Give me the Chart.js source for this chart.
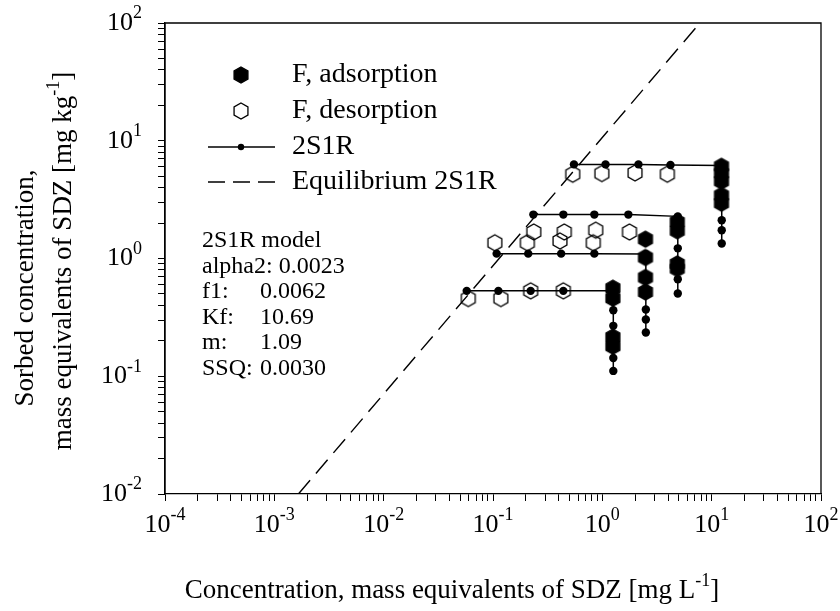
<!DOCTYPE html>
<html>
<head>
<meta charset="utf-8">
<script src="https://cdn.jsdelivr.net/npm/chart.js@4.4.1/dist/chart.umd.min.js"></script>
<style>
  html, body { margin: 0; padding: 0; background: #fff; }
  #wrap { width: 840px; height: 611px; }
</style>
</head>
<body>
<div id="wrap"><canvas id="c" width="840" height="611"></canvas></div>
<script>
// ---- Measured data: F (adsorption), F (desorption), 2S1R model, equilibrium isotherm ----

// Adsorption steps (filled hexagons), four initial concentration levels
const adsX1 = [1.25, 1.25, 1.25, 1.25];
const adsY1 = [0.56, 0.46, 0.215, 0.18];
const adsX2 = [2.48, 2.48, 2.48, 2.48];
const adsY2 = [1.46, 1.02, 0.69, 0.52];
const adsX3 = [4.85, 4.85, 4.85, 4.85];
const adsY3 = [2.04, 1.72, 0.90, 0.82];
const adsX4 = [12.3, 12.3, 12.3, 12.3, 12.3];
const adsY4 = [6.07, 5.3, 4.53, 3.44, 2.95];

// Desorption steps (open hexagons)
const desX1 = [0.0594, 0.118, 0.221, 0.44];
const desY1 = [0.457, 0.457, 0.531, 0.531];
const desX2 = [0.104, 0.206, 0.41, 0.826];
const desY2 = [1.36, 1.36, 1.41, 1.36];
const desX3 = [0.236, 0.449, 0.87, 1.77];
const desY3 = [1.68, 1.68, 1.74, 1.68];
const desX4 = [0.536, 0.99, 1.99, 3.93];
const desY4 = [5.2, 5.27, 5.33, 5.2];

// 2S1R model curves (adsorption column, then desorption steps)
const modX1 = [1.26, 1.26, 1.26, 1.26, 1.26, 1.26, 1.26, 1.26, 0.44, 0.221, 0.112, 0.0575];
const modY1 = [0.111, 0.143, 0.18, 0.215, 0.268, 0.364, 0.46, 0.531, 0.531, 0.531, 0.531, 0.531];
const modX2 = [2.5, 2.5, 2.5, 2.5, 2.5, 2.5, 2.5, 0.845, 0.42, 0.21, 0.108];
const modY2 = [0.235, 0.303, 0.369, 0.52, 0.69, 1.02, 1.09, 1.10, 1.10, 1.10, 1.10];
const modX3 = [4.9, 4.9, 4.9, 4.9, 4.9, 4.9, 4.9, 1.73, 0.845, 0.44, 0.234];
const modY3 = [0.505, 0.667, 0.87, 1.22, 1.70, 2.04, 2.28, 2.36, 2.36, 2.36, 2.36];
const modX4 = [12.36, 12.36, 12.36, 12.36, 12.36, 12.36, 12.36, 12.36, 4.2, 2.14, 1.07, 0.55];
const modY4 = [1.34, 1.74, 2.11, 2.95, 3.44, 4.53, 5.3, 6.15, 6.22, 6.3, 6.3, 6.3];

// Equilibrium 2S1R isotherm (straight line in log-log space)
const eqX = [0.00166, 7.8];
const eqY = [0.01, 100];

// Axis decades
const xDecades = [-4, -3, -2, -1, 0, 1, 2];
const yDecades = [-2, -1, 0, 1, 2];

// Legend and model parameter texts
const legendLabels = ['F, adsorption', 'F, desorption', '2S1R', 'Equilibrium 2S1R'];
const paramTitle = '2S1R model';
const paramNames = ['alpha2:', 'f1:', 'Kf:', 'm:', 'SSQ:'];
const paramValues = ['0.0023', '0.0062', '10.69', '1.09', '0.0030'];

// ---- helpers ----
const FONT = '"Liberation Serif", "Times New Roman", serif';
const zip = (xs, ys) => xs.map((x, i) => ({ x, y: ys[i] }));

function hexPath(ctx, cx, cy, r) {
  ctx.beginPath();
  for (let k = 0; k < 6; k++) {
    const a = -Math.PI / 2 + k * Math.PI / 3;
    const px = cx + r * Math.cos(a), py = cy + r * Math.sin(a);
    if (k === 0) ctx.moveTo(px, py); else ctx.lineTo(px, py);
  }
  ctx.closePath();
}
function hexImage(filled, r) {
  const s = Math.ceil(r * 2 + 4);
  const cv = document.createElement('canvas');
  cv.width = s; cv.height = s;
  const g = cv.getContext('2d');
  hexPath(g, s / 2, s / 2, r);
  if (filled) { g.fillStyle = '#000'; g.fill(); }
  g.lineWidth = 1.3; g.strokeStyle = '#000'; g.stroke();
  return cv;
}
const HEX_R = 8;
const hexFilled = hexImage(true, HEX_R);
const hexOpen = hexImage(false, HEX_R);

// draw a run of text pieces, some superscripted, aligned about (x, y)
function drawRich(ctx, x, y, pieces, size, align) {
  const ss = Math.round(size * 0.68);
  let w = 0;
  const widths = pieces.map(p => {
    ctx.font = `${p.sup ? ss : size}px ${FONT}`;
    const pw = ctx.measureText(p.t).width;
    w += pw;
    return pw;
  });
  let cx = align === 'center' ? x - w / 2 : align === 'right' ? x - w : x;
  ctx.textAlign = 'left';
  ctx.textBaseline = 'middle';
  pieces.forEach((p, i) => {
    ctx.font = `${p.sup ? ss : size}px ${FONT}`;
    ctx.fillText(p.t, cx, p.sup ? y - size * 0.36 : y);
    cx += widths[i];
  });
}

function decadeTicks(scale) {
  const ticks = [];
  const lo = Math.round(Math.log10(scale.min)), hi = Math.round(Math.log10(scale.max));
  for (let e = lo; e <= hi; e++) {
    for (let k = 1; k <= 9; k++) {
      if (e === hi && k > 1) break;
      ticks.push({ value: k * Math.pow(10, e), major: k === 1 });
    }
  }
  scale.ticks = ticks;
}

// frame, tick labels, axis titles, legend and parameter box
const decorations = {
  id: 'decorations',
  afterDraw(chart) {
    const ctx = chart.ctx;
    const { left, right, top, bottom } = chart.chartArea;
    const xs = chart.scales.x, ys = chart.scales.y;
    ctx.save();
    ctx.strokeStyle = '#000';
    ctx.lineWidth = 1.3;
    ctx.beginPath();
    ctx.moveTo(left, bottom); ctx.lineTo(left, top); ctx.lineTo(right, top); ctx.lineTo(right, bottom);
    ctx.stroke();

    ctx.fillStyle = '#000';
    // tick labels
    xDecades.forEach(e => {
      drawRich(ctx, xs.getPixelForValue(Math.pow(10, e)), bottom + 31,
        [{ t: '10' }, { t: String(e), sup: true }], 26, 'center');
    });
    yDecades.forEach(e => {
      drawRich(ctx, left - 23, ys.getPixelForValue(Math.pow(10, e)),
        [{ t: '10' }, { t: String(e), sup: true }], 26, 'right');
    });

    // x title
    drawRich(ctx, 452, 591,
      [{ t: 'Concentration, mass equivalents of SDZ [mg L' }, { t: '-1', sup: true }, { t: ']' }], 27, 'center');
    // y title (two lines)
    ctx.save();
    ctx.translate(26, 288);
    ctx.rotate(-Math.PI / 2);
    drawRich(ctx, 0, 0, [{ t: 'Sorbed concentration,' }], 27, 'center');
    ctx.restore();
    ctx.save();
    ctx.translate(64, 261);
    ctx.rotate(-Math.PI / 2);
    drawRich(ctx, 0, 0, [{ t: 'mass equivalents of SDZ [mg kg' }, { t: '-1', sup: true }, { t: ']' }], 27, 'center');
    ctx.restore();

    // legend
    const lx = 241, tx = 292;
    const rows = [75, 111, 147, 182];
    ctx.drawImage(hexFilled, lx - hexFilled.width / 2, rows[0] - hexFilled.height / 2);
    ctx.drawImage(hexOpen, lx - hexOpen.width / 2, rows[1] - hexOpen.height / 2);
    ctx.lineWidth = 1.5;
    ctx.beginPath(); ctx.moveTo(208, rows[2]); ctx.lineTo(275, rows[2]); ctx.stroke();
    ctx.beginPath(); ctx.arc(lx, rows[2], 3.2, 0, Math.PI * 2); ctx.fill();
    ctx.setLineDash([17, 8]);
    ctx.beginPath(); ctx.moveTo(208, rows[3]); ctx.lineTo(276, rows[3]); ctx.stroke();
    ctx.setLineDash([]);
    legendLabels.forEach((s, i) => drawRich(ctx, tx, rows[i], [{ t: s }], 28, 'left'));

    // model parameter block
    const px = 202, vx = 260, py0 = 241, dy = 25.5;
    drawRich(ctx, px, py0, [{ t: paramTitle }], 24, 'left');
    paramNames.forEach((n, i) => {
      const y = py0 + dy * (i + 1);
      if (i === 0) {
        drawRich(ctx, px, y, [{ t: n + ' ' + paramValues[i] }], 24, 'left');
      } else {
        drawRich(ctx, px, y, [{ t: n }], 24, 'left');
        drawRich(ctx, vx, y, [{ t: paramValues[i] }], 24, 'left');
      }
    });
    ctx.restore();
  }
};

const modelStyle = {
  type: 'line', showLine: true, borderColor: '#000', borderWidth: 1.5,
  pointRadius: 4.2, pointBackgroundColor: '#000', pointBorderWidth: 0,
  fill: false, tension: 0, order: 2
};
const adsStyle = { type: 'scatter', pointStyle: hexFilled, pointRadius: HEX_R, order: 0 };
const desStyle = { type: 'scatter', pointStyle: hexOpen, pointRadius: HEX_R, order: 1 };

const datasets = [
  { label: 'Equilibrium 2S1R', type: 'line', data: zip(eqX, eqY), borderColor: '#000', borderWidth: 1.4,
    borderDash: [18, 9], pointRadius: 0, fill: false, order: 3 },
  { label: '2S1R', data: zip(modX1, modY1), ...modelStyle },
  { label: '2S1R', data: zip(modX2, modY2), ...modelStyle },
  { label: '2S1R', data: zip(modX3, modY3), ...modelStyle },
  { label: '2S1R', data: zip(modX4, modY4), ...modelStyle },
  { label: 'F, desorption', data: zip(desX1, desY1), ...desStyle },
  { label: 'F, desorption', data: zip(desX2, desY2), ...desStyle },
  { label: 'F, desorption', data: zip(desX3, desY3), ...desStyle },
  { label: 'F, desorption', data: zip(desX4, desY4), ...desStyle },
  { label: 'F, adsorption', data: zip(adsX1, adsY1), ...adsStyle },
  { label: 'F, adsorption', data: zip(adsX2, adsY2), ...adsStyle },
  { label: 'F, adsorption', data: zip(adsX3, adsY3), ...adsStyle },
  { label: 'F, adsorption', data: zip(adsX4, adsY4), ...adsStyle }
];

const TICK_LEN = 7;
const axisCommon = {
  type: 'logarithmic',
  ticks: { display: false },
  title: { display: false },
  border: { display: true, color: '#000', width: 1.3 },
  grid: { drawOnChartArea: false, drawTicks: true, tickLength: TICK_LEN, color: '#000', lineWidth: 1 },
  afterBuildTicks: decadeTicks
};

new Chart(document.getElementById('c'), {
  type: 'scatter',
  data: { datasets },
  options: {
    responsive: false,
    devicePixelRatio: 1,
    animation: false,
    events: [],
    layout: { padding: { left: 165 - TICK_LEN, top: 23, right: 19, bottom: 611 - 494 - TICK_LEN } },
    plugins: { legend: { display: false }, tooltip: { enabled: false }, title: { display: false } },
    scales: {
      x: { ...axisCommon, position: 'bottom', min: 1e-4, max: 100 },
      y: { ...axisCommon, position: 'left', min: 0.01, max: 100 }
    }
  },
  plugins: [decorations]
});
</script>
</body>
</html>
